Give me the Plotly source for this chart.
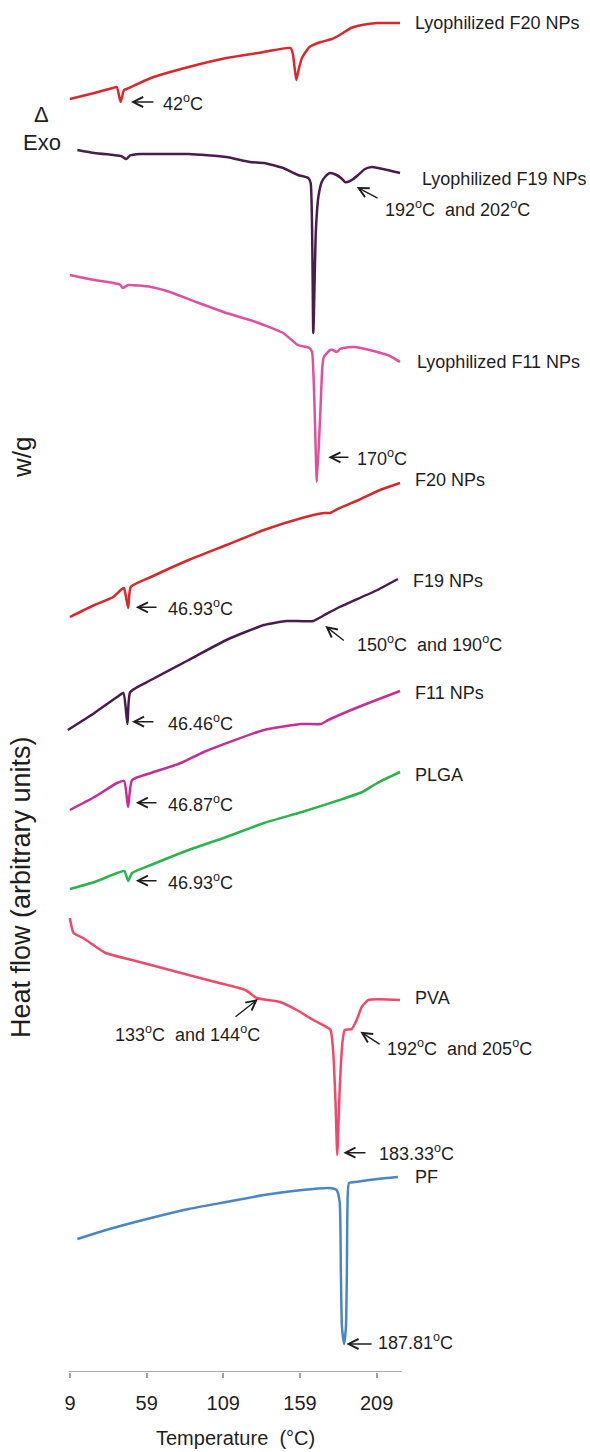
import plotly.graph_objects as go

# ---- DSC thermograms: temperature (°C) and heat flow (arbitrary units) ----
lyo_f20_t = [8.9, 24.9, 37.0, 39.5, 42.0, 44.2, 46.0, 61.8, 86.4, 111.0, 135.5, 152.9, 154.5,
             156.6, 158.4, 160.3, 165.2, 172.6, 179.9, 184.9, 192.3, 199.5, 209.5, 224.3]
lyo_f20_hf = [127.3, 127.9, 128.4, 128.5, 127.0, 128.2, 128.3, 129.4, 130.5, 131.4, 132.0, 132.4, 131.7,
              129.2, 130.4, 131.4, 132.5, 133.0, 133.3, 133.7, 134.4, 134.7, 134.9, 134.9]

lyo_f19_t = [13.8, 24.9, 37.2, 42.3, 45.8, 48.1, 54.7, 61.8, 86.4, 111.0, 126.4, 135.5, 148.1, 157.7,
             164.4, 166.0, 167.7, 169.4, 171.0, 173.2, 175.3, 178.6, 182.9, 185.8, 188.4, 191.0,
             193.8, 196.9, 201.4, 206.0, 213.2, 224.3]
lyo_f19_hf = [122.2, 121.9, 121.7, 121.6, 121.3, 121.65, 121.8, 121.8, 121.8, 121.5, 121.0, 120.9, 120.4, 119.7,
              119.4, 118.9, 103.9, 114.2, 117.5, 119.0, 119.5, 119.9, 119.7, 119.4, 119.0, 119.05,
              119.3, 119.7, 120.3, 120.5, 120.3, 119.9]

lyo_f11_t = [8.9, 24.9, 37.2, 41.6, 43.3, 47.0, 61.8, 74.1, 91.3, 111.0, 126.4, 135.5, 148.1, 157.7,
             165.2, 166.9, 170.0, 172.3, 173.6, 174.6, 178.7, 180.5, 182.9, 185.1, 187.3, 194.7,
             209.5, 217.7, 224.3]
lyo_f11_hf = [109.7, 109.2, 108.9, 108.75, 108.4, 108.7, 108.5, 108.0, 107.0, 105.9, 105.2, 104.7, 103.9, 102.7,
              102.4, 102.0, 89.0, 96.0, 100.5, 101.5, 102.2, 102.2, 102.0, 102.3, 102.4, 102.5,
              102.0, 101.6, 101.0]

f20_t = [8.9, 24.9, 37.2, 42.1, 44.2, 46.93, 48.6, 61.8, 86.4, 111.0, 135.5, 160.3, 175.0, 178.6,
         184.9, 197.2, 211.2, 224.3]
f20_hf = [75.5, 76.7, 77.5, 78.2, 78.4, 76.4, 78.5, 79.5, 81.2, 82.7, 84.2, 85.4, 85.9, 85.9,
          86.4, 87.2, 88.2, 88.9]

f19_t = [7.6, 24.9, 39.7, 43.8, 46.46, 48.3, 61.8, 86.4, 111.0, 135.5, 150.4, 167.6, 175.0, 184.9,
         209.5, 222.9]
f19_hf = [64.2, 65.9, 67.5, 67.9, 64.8, 68.0, 69.2, 71.2, 73.2, 74.7, 75.1, 75.1, 75.7, 76.5,
          78.2, 79.3]

f11_t = [8.9, 24.9, 39.7, 44.3, 46.87, 49.5, 61.8, 81.4, 96.3, 135.5, 160.3, 172.6, 177.5, 197.2, 224.3]
f11_hf = [56.2, 57.5, 58.9, 59.1, 56.5, 59.2, 59.9, 60.9, 62.0, 64.2, 64.8, 64.8, 65.2, 66.5, 68.1]

plga_t = [8.9, 24.9, 39.7, 44.5, 46.93, 49.5, 61.8, 86.4, 111.0, 135.5, 160.3, 184.9, 199.7, 209.5, 224.3]
plga_hf = [48.3, 49.0, 49.9, 50.1, 49.1, 49.9, 50.7, 52.2, 53.5, 54.9, 56.0, 57.2, 58.0, 58.9, 60.0]

pva_t = [8.9, 11.3, 17.5, 32.3, 49.4, 74.1, 98.7, 123.4, 130.7, 146.0, 156.9, 167.7, 176.4, 179.0,
         180.6, 182.2, 183.33, 184.6, 185.6, 186.9, 188.2, 192.8, 196.0, 199.3, 203.6, 224.3]
pva_hf = [45.4, 43.9, 43.4, 41.9, 41.2, 40.2, 39.2, 38.2, 37.4, 37.0, 36.2, 35.2, 34.5, 34.2,
          32.2, 27.0, 21.7, 27.0, 30.5, 33.2, 34.2, 34.3, 35.2, 36.5, 37.2, 37.2]

pf_t = [13.8, 37.2, 61.8, 86.4, 111.0, 135.5, 160.3, 177.5, 182.9, 184.9, 185.7, 186.4, 187.81,
        189.0, 189.6, 190.0, 191.0, 196.4, 209.5, 222.9]
pf_hf = [13.3, 14.4, 15.4, 16.3, 17.0, 17.7, 18.2, 18.4, 18.2, 17.0, 10.0, 4.5, 2.8,
         4.5, 10.0, 16.5, 18.9, 19.03, 19.3, 19.5]

series_names = ["Lyophilized F20 NPs", "Lyophilized F19 NPs", "Lyophilized F11 NPs",
                "F20 NPs", "F19 NPs", "F11 NPs", "PLGA", "PVA", "PF"]
series_t = [lyo_f20_t, lyo_f19_t, lyo_f11_t, f20_t, f19_t, f11_t, plga_t, pva_t, pf_t]
series_hf = [lyo_f20_hf, lyo_f19_hf, lyo_f11_hf, f20_hf, f19_hf, f11_hf, plga_hf, pva_hf, pf_hf]
series_colors = ["#d8282c", "#4a1c4e", "#e0509f", "#d8282c", "#4a1c4e", "#c42f93",
                 "#2db24c", "#ee4a6c", "#4a86c6"]

# curve labels at the right end (temperature, heat flow)
label_t = [232.7, 237.3, 234.0, 232.7, 231.4, 232.7, 232.7, 232.7, 232.7]
label_hf = [134.9, 119.3, 101.0, 89.2, 79.1, 67.9, 59.7, 37.4, 19.5]

# transition annotations: arrow tip, arrow tail, text anchor, text
peak_text = ["42<sup>o</sup>C",
             "192<sup>o</sup>C \u00a0and 202<sup>o</sup>C",
             "170<sup>o</sup>C",
             "46.93<sup>o</sup>C",
             "150<sup>o</sup>C \u00a0and 190<sup>o</sup>C",
             "46.46<sup>o</sup>C",
             "46.87<sup>o</sup>C",
             "46.93<sup>o</sup>C",
             "133<sup>o</sup>C \u00a0and 144<sup>o</sup>C",
             "192<sup>o</sup>C \u00a0and 205<sup>o</sup>C",
             "183.33<sup>o</sup>C",
             "187.81<sup>o</sup>C"]
tip_t = [48.8, 196.0, 177.5, 51.9, 175.5, 49.4, 51.9, 51.9, 131.6, 198.4, 187.3, 189.3]
tip_hf = [127.0, 118.5, 91.47, 76.47, 74.6, 65.03, 56.93, 49.13, 37.3, 34.03, 21.93, 2.8]
tail_t = [64.4, 210.6, 191.6, 66.4, 188.6, 64.4, 66.4, 66.4, 116.0, 211.9, 202.7, 206.7]
tail_hf = [127.0, 117.3, 91.47, 76.47, 73.03, 65.03, 56.93, 49.13, 35.4, 32.7, 21.93, 2.8]
text_t = [68.4, 213.2, 194.9, 71.6, 194.9, 71.6, 71.6, 71.6, 37.0, 214.5, 209.3, 208.3]
text_hf = [127.0, 116.4, 91.5, 76.5, 72.9, 65.0, 56.9, 49.1, 33.9, 32.5, 22.0, 3.1]

tick_vals = [9, 59, 109, 159, 209]
axis_span = [8.0, 225.5]

FONT = "Liberation Sans, Arial, sans-serif"
INK = "#1e1e1e"

fig = go.Figure()
for name, t, hf, c in zip(series_names, series_t, series_hf, series_colors):
    fig.add_trace(go.Scatter(x=t, y=hf, mode="lines", name=name,
                             line=dict(color=c, width=2.5, shape="spline", smoothing=0.5),
                             showlegend=False, hoverinfo="skip"))

annotations = []
for name, lt, lh in zip(series_names, label_t, label_hf):
    annotations.append(dict(x=lt, y=lh, xref="x", yref="y", text=name, showarrow=False,
                            xanchor="left", yanchor="middle",
                            font=dict(family=FONT, size=18, color=INK)))

for txt, x0, y0, x1, y1, tx, ty in zip(peak_text, tip_t, tip_hf, tail_t, tail_hf, text_t, text_hf):
    annotations.append(dict(x=x0, y=y0, ax=x1, ay=y1, xref="x", yref="y", axref="x", ayref="y",
                            text="", showarrow=True, arrowhead=5, arrowsize=1.4,
                            arrowwidth=1.4, arrowcolor=INK, standoff=0, startstandoff=0))
    annotations.append(dict(x=tx, y=ty, xref="x", yref="y", text=txt, showarrow=False,
                            xanchor="left", yanchor="middle",
                            font=dict(family=FONT, size=18, color=INK)))

# exotherm direction marker and axis titles
annotations += [
    dict(x=-0.0340, y=0.9169, xref="paper", yref="paper", text="\u0394", showarrow=False,
         xanchor="center", yanchor="middle", font=dict(family=FONT, size=22, color=INK)),
    dict(x=-0.0340, y=0.8958, xref="paper", yref="paper", text="Exo", showarrow=False,
         xanchor="center", yanchor="middle", font=dict(family=FONT, size=22, color=INK)),
    dict(x=-0.0717, y=0.6669, xref="paper", yref="paper", text="w/g", showarrow=False,
         textangle=-90, xanchor="center", yanchor="middle",
         font=dict(family=FONT, size=26, color=INK)),
    dict(x=-0.0735, y=0.3535, xref="paper", yref="paper", text="Heat flow (arbitrary units)",
         showarrow=False, textangle=-90, xanchor="center", yanchor="middle",
         font=dict(family=FONT, size=27, color=INK)),
    dict(x=0.3302, y=-0.0481, xref="paper", yref="paper", text="Temperature \u00a0(\u00b0C)",
         showarrow=False, xanchor="center", yanchor="middle",
         font=dict(family=FONT, size=20, color=INK)),
]

fig.add_shape(type="line", xref="x", yref="y", x0=axis_span[0], x1=axis_span[1], y0=0, y1=0,
              line=dict(color="#a8a8a8", width=2))

fig.update_layout(
    width=590, height=1452,
    margin=dict(l=60, r=0, t=0, b=80),
    paper_bgcolor="white", plot_bgcolor="white",
    annotations=annotations,
    xaxis=dict(range=[2.477, 348.2], tickvals=tick_vals, ticktext=[str(v) for v in tick_vals],
               showgrid=False, zeroline=False, showline=False, ticks="outside",
               ticklen=5, tickwidth=1.5, tickcolor="#a0a0a0", ticklabelstandoff=8,
               tickfont=dict(family=FONT, size=20, color=INK)),
    yaxis=dict(range=[0, 137.2], visible=False),
)

fig.write_html("out.html")
